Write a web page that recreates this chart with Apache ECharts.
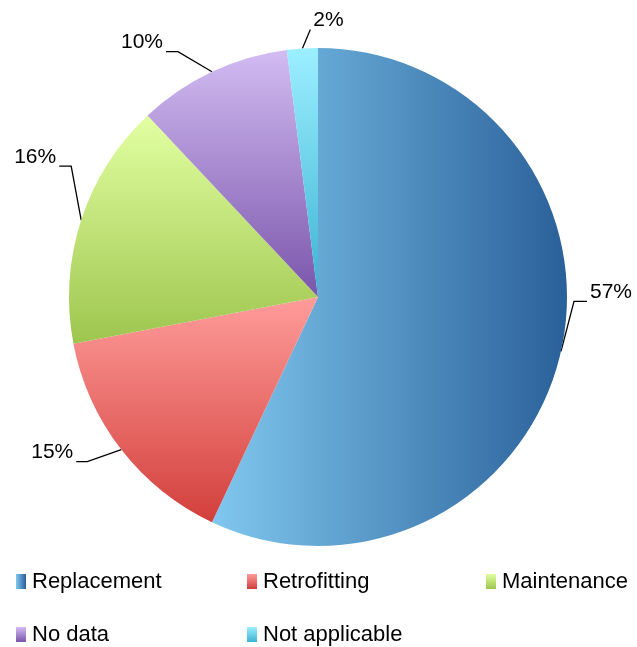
<!DOCTYPE html>
<html>
<head>
<meta charset="utf-8">
<script src="https://cdn.jsdelivr.net/npm/echarts@6/dist/echarts.min.js"></script>
<style>
  html, body { margin: 0; padding: 0; background: #fff; }
  #chart { width: 637px; height: 647px; }
</style>
</head>
<body>
<div id="chart"></div>
<script>
// Share of work type, in percent
const categories = ['Replacement', 'Retrofitting', 'Maintenance', 'No data', 'Not applicable'];
const shares = [57, 15, 16, 10, 2];

const FONT = '"Liberation Sans Narrow", "Arial Narrow", "Liberation Sans", Arial, sans-serif';

function vGrad(top, bottom) {
  return { type: 'linear', x: 0, y: 0, x2: 0, y2: 1,
    colorStops: [{ offset: 0, color: top }, { offset: 1, color: bottom }] };
}
function hGrad(left, right) {
  return { type: 'linear', x: 0, y: 0, x2: 1, y2: 0,
    colorStops: [{ offset: 0, color: left }, { offset: 1, color: right }] };
}

const sliceFills = [
  hGrad('#80c8ef', '#2a6099'),
  vGrad('#ff9c9a', '#d23f3b'),
  vGrad('#e2ffa2', '#9ec54e'),
  vGrad('#d2bcf2', '#7a55ab'),
  vGrad('#9cefff', '#3bb2d3')
];

// Leader line shape per slice: elbow offset from the slice edge, then a short horizontal run
const leaderGuides = [
  { dx: 13, dy: -50, run: 13, dir: 1 },
  { dx: -34, dy: 12, run: 11, dir: -1 },
  { dx: -10, dy: -54, run: 12, dir: -1 },
  { dx: -34, dy: -20, run: 12, dir: -1 },
  { dx: 8, dy: -19, run: 0, dir: 1 }
];

// Legend text box widths so the entries line up in columns
const legendTextWidths = [215, 223, 125, 215, 200];

const chart = echarts.init(document.getElementById('chart'), null, { renderer: 'canvas' });

chart.setOption({
  animation: false,
  backgroundColor: '#ffffff',
  legend: {
    left: 16,
    right: 0,
    top: 555,
    padding: 0,
    itemGap: 0,
    itemWidth: 10,
    itemHeight: 15,
    icon: 'rect',
    textStyle: { fontFamily: FONT, fontSize: 22, color: '#000', lineHeight: 53, padding: [0, 0, 0, 1] },
    data: categories.map((name, i) => ({
      name: name,
      textStyle: { width: legendTextWidths[i] }
    }))
  },
  series: [{
    type: 'pie',
    center: [318, 297],
    radius: 249,
    startAngle: 90,
    clockwise: true,
    avoidLabelOverlap: false,
    data: categories.map((name, i) => ({
      name: name,
      value: shares[i],
      itemStyle: { color: sliceFills[i] }
    })),
    itemStyle: { borderWidth: 0 },
    label: {
      show: true,
      position: 'outside',
      fontFamily: FONT,
      fontSize: 21,
      color: '#000',
      formatter: p => Math.round(p.percent) + '%'
    },
    labelLine: {
      show: true,
      length: 10,
      length2: 10,
      lineStyle: { color: '#000', width: 1.3 }
    },
    labelLayout: function (params) {
      const g = leaderGuides[params.dataIndex];
      const p0 = params.labelLinePoints[0];
      const elbow = [p0[0] + g.dx, p0[1] + g.dy];
      const end = [elbow[0] + g.run * g.dir, elbow[1]];
      return {
        x: end[0] + 3 * g.dir,
        y: end[1] - 9,
        align: g.dir > 0 ? 'left' : 'right',
        verticalAlign: 'middle',
        labelLinePoints: [p0, elbow, end]
      };
    },
    emphasis: { disabled: true }
  }]
});
</script>
</body>
</html>
